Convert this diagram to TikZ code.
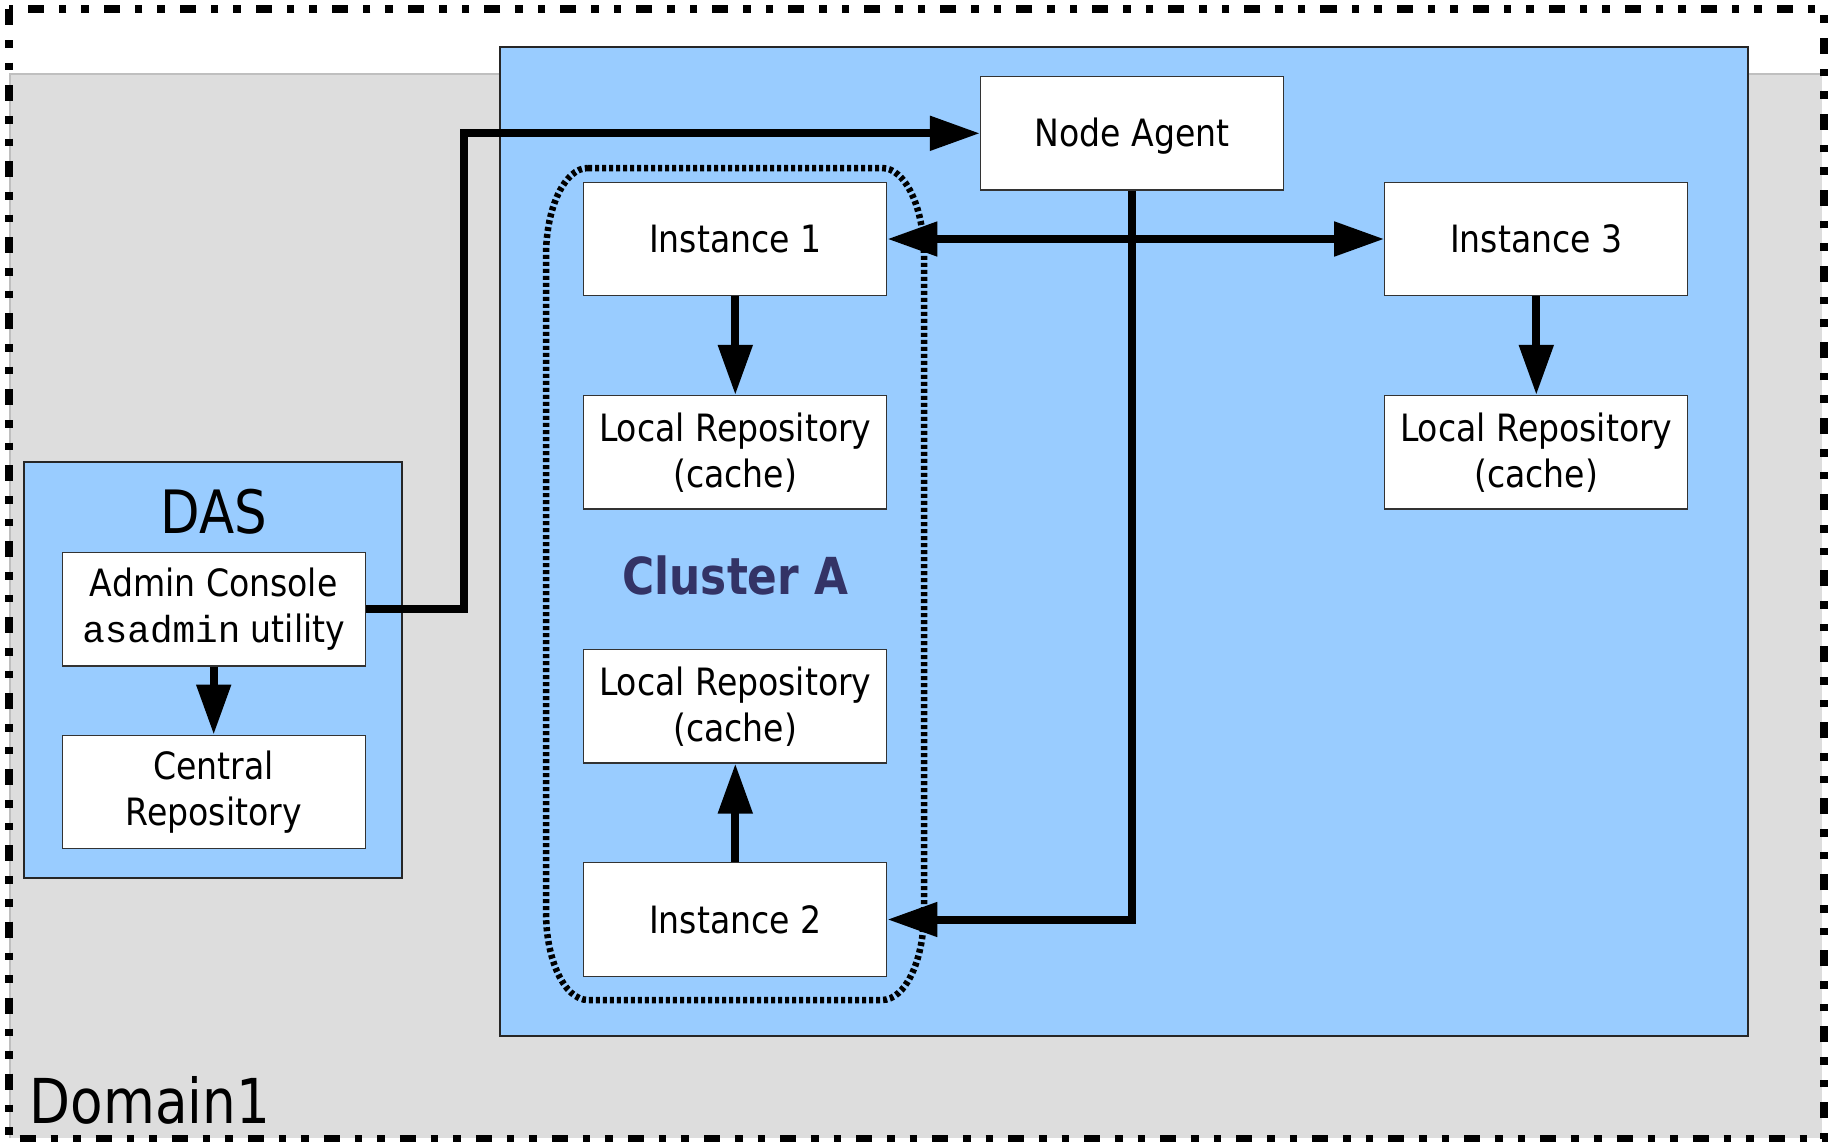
\documentclass[tikz,border=0pt]{standalone}
\usepackage{fontspec}
\setmainfont{DejaVu Sans}[FakeStretch=0.88]
\setmonofont{Liberation Mono}
\newfontfamily\titlefont{DejaVu Sans}[FakeStretch=0.86]
\usetikzlibrary{arrows.meta}
\usetikzlibrary{positioning}

\definecolor{domaingray}{HTML}{DDDDDD}
\definecolor{hostblue}{HTML}{99CCFF}
\definecolor{clusternavy}{HTML}{333366}

\begin{document}
\begin{tikzpicture}[
        x=0.01cm, y=-0.01cm,
        node distance=0.986cm,
        block/.style={rectangle, draw=black!80, line width=0.35pt, fill=white, minimum width=3.027cm, minimum height=1.133cm, inner sep=0pt, align=center, font=\fontsize{10.7pt}{13.1pt}\selectfont},
        area/.style={draw=black!85, line width=0.4pt, fill=hostblue},
        title/.style={font=\titlefont\fontsize{17pt}{20pt}\selectfont, inner sep=0pt},
        arrow/.style={line width=0.08cm, -{Triangle[length=0.5cm, width=0.33cm]}},
        dblarrow/.style={arrow, {Triangle[length=0.5cm, width=0.33cm]}-{Triangle[length=0.5cm, width=0.33cm]}}
        ]

        \useasboundingbox (0,0) rectangle (1829,1142);

        % Domain background and border
        \fill[domaingray] (10,74) rectangle (1822,1138);
        \draw[black!25, line width=0.4pt] (10,1138) -- (10,74) -- (1822,74);
        \draw[line width=0.08cm, dash pattern=on 0.16cm off 0.15cm on 0.075cm off 0.15cm on 0.075cm off 0.15cm] (9,9) rectangle (1824,1139);

        % Machines
        \draw[area] (500,47) rectangle (1748,1036);
        \draw[area] (24,462) rectangle (402,878);

        % Nodes
        \node (agent)   [block, text height=0.76em, text depth=0pt] at (1132,133.3) {Node Agent};
        \node (inst1)   [block] at (735.3,239) {Instance 1};
        \node (repo1)   [block, below=of inst1] {Local Repository\\(cache)};
        \node (inst3)   [block] at (1536.3,239) {Instance 3};
        \node (repo3)   [block, below=of inst3] {Local Repository\\(cache)};
        \node (inst2)   [block] at (735.3,919.5) {Instance 2};
        \node (repo2)   [block, above=of inst2] {Local Repository\\(cache)};
        \node (admin)   [block] at (213.7,609.3) {Admin Console\\\texttt{asadmin} utility};
        \node (central) [block, below=0.68cm of admin] {Central\\Repository};

        % Labels
        \node (das)     [title, anchor=base] at (214,533) {DAS};
        \node (domain)  [title, font=\titlefont\fontsize{17.6pt}{20pt}\selectfont, anchor=base west] at (29,1123) {Domain1};
        \node (cluster) [title, font=\titlefont\bfseries\fontsize{14.5pt}{17pt}\selectfont, text=clusternavy, anchor=base] at (735.5,594) {Cluster A};

        % Cluster boundary
        \draw[line width=0.065cm, dash pattern=on 0.04cm off 0.03cm]
            (588,168) -- (882,168) .. controls (905.2,168) and (924,207.4) .. (924,256)
            -- (924,912) .. controls (924,960.6) and (905.2,1000) .. (882,1000)
            -- (588,1000) .. controls (564.8,1000) and (546,960.6) .. (546,912)
            -- (546,256) .. controls (546,207.4) and (564.8,168) .. (588,168);

        % Arrows
        \draw[arrow] (admin.east) -- ++(98,0) |- (agent.west);
        \draw[arrow] (agent.south) |- (inst2.east);
        \draw[dblarrow] (inst1.east) -- (inst3.west);
        \draw[arrow] (inst1) -- (repo1);
        \draw[arrow] (inst3) -- (repo3);
        \draw[arrow] (inst2) -- (repo2);
        \draw[arrow] (admin) -- (central);

    \end{tikzpicture}
\end{document}
